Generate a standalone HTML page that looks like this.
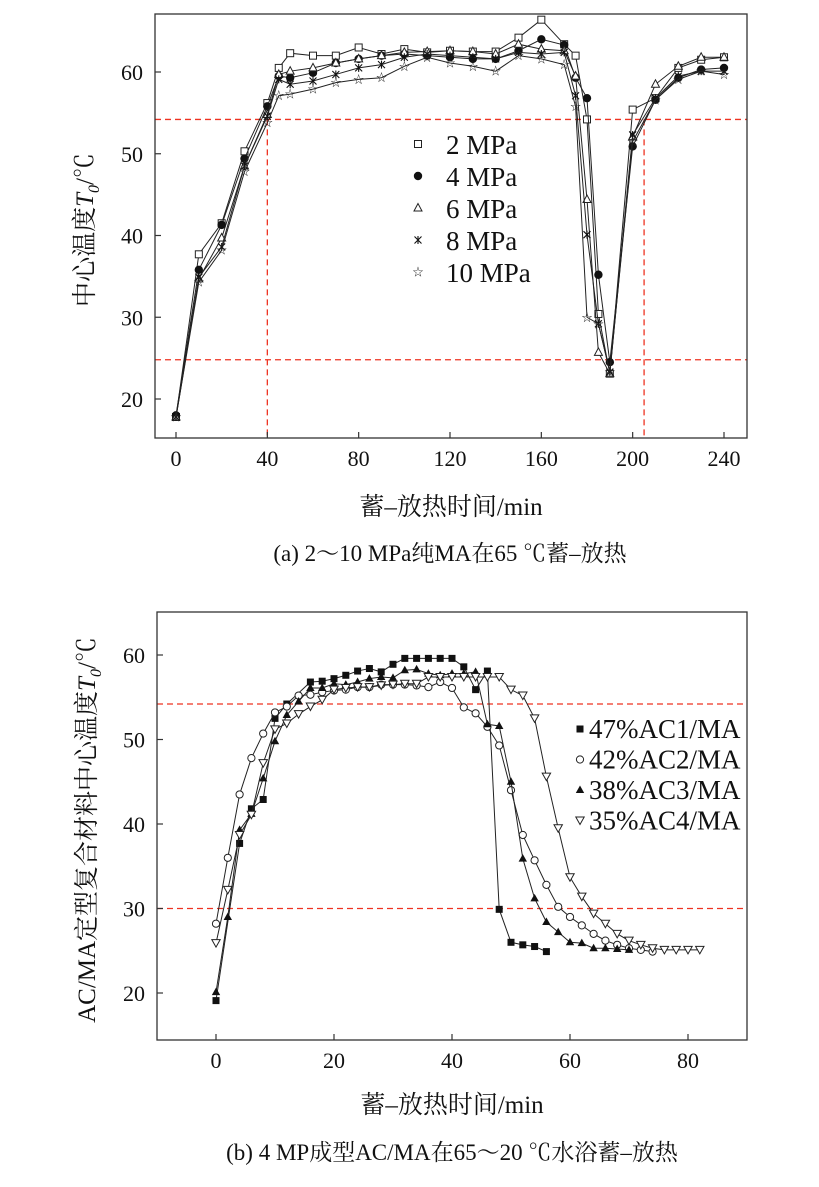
<!DOCTYPE html>
<html><head><meta charset="utf-8">
<style>
body{margin:0;background:#fff;}
svg{display:block;font-family:"Liberation Serif","Noto Serif CJK SC",serif;}
</style></head>
<body>
<svg id="chart" width="819" height="1187" viewBox="0 0 819 1187" xmlns="http://www.w3.org/2000/svg"></svg>
<script>
// ---- Chart (a) data ----
const aX = [0,10,20,30,40,45,50,60,70,80,90,100,110,120,130,140,150,160,170,175,180,185,190,200,210,220,230,240];
const aLabels = ["2 MPa","4 MPa","6 MPa","8 MPa","10 MPa"];
const a2 = [17.8,37.7,41.5,50.3,56.2,60.5,62.3,62.0,62.0,63.0,62.2,62.8,62.4,62.6,62.5,62.5,64.2,66.4,63.4,62.0,54.2,30.4,23.1,55.4,56.8,60.5,61.5,61.8];
const a4 = [18.0,35.8,41.3,49.4,55.8,59.5,59.3,59.9,61.1,61.6,62.0,62.2,62.0,61.8,61.6,61.6,62.6,64.0,63.3,59.3,56.8,35.2,24.5,50.9,56.6,59.3,60.3,60.5];
const a6 = [17.8,34.7,39.7,48.5,54.8,59.7,60.1,60.5,61.1,61.6,62.0,62.4,62.5,62.6,62.5,62.2,63.4,62.8,62.6,59.5,44.4,25.7,23.1,52.1,58.5,60.7,61.8,61.8];
const a8 = [17.8,34.9,38.6,48.5,54.6,59.1,58.5,58.9,59.7,60.5,60.9,61.8,62.2,62.0,61.8,61.6,62.4,62.2,62.4,57.1,40.1,29.2,23.3,52.3,56.8,59.5,60.1,60.1];
const a10 = [17.8,34.3,38.2,47.8,53.8,57.1,57.3,57.9,58.7,59.1,59.3,60.7,61.8,61.1,60.7,60.1,62.0,61.6,60.9,55.8,30.0,29.2,23.3,51.5,56.6,59.1,60.1,59.7];
const aXTicks = [0,40,80,120,160,200,240];
const aYTicks = [20,30,40,50,60];
const aRefY = [54.2,24.8];
const aRefX = [40,205];

// ---- Chart (b) data ----
const b1X = [0,4,6,8,10,12,16,18,20,22,24,26,28,30,32,34,36,38,40,42,44,46,48,50,52,54,56];
const b1Y = [19.1,37.7,41.8,42.9,52.5,54.2,56.8,56.9,57.2,57.6,58.1,58.4,58.0,58.9,59.6,59.6,59.6,59.6,59.6,58.6,55.9,58.1,29.9,26.0,25.7,25.5,24.9];
const b2X = [0,2,4,6,8,10,12,14,16,18,20,22,24,26,28,30,32,34,36,38,40,42,44,46,48,50,52,54,56,58,60,62,64,66,68,70,72,74];
const b2Y = [28.2,36.0,43.5,47.8,50.7,53.2,53.9,55.2,55.3,55.6,55.8,55.9,56.2,56.2,56.5,56.5,56.5,56.4,56.2,56.8,56.1,53.8,53.1,51.5,49.3,44.0,38.7,35.7,32.8,30.2,29.0,28.0,27.0,26.2,25.7,25.3,25.1,24.9];
const b3X = [0,2,4,6,8,10,12,14,16,18,20,22,24,26,28,30,32,34,36,38,40,42,44,46,48,50,52,54,56,58,60,62,64,66,68,70];
const b3Y = [20.1,29.0,39.3,41.2,45.4,49.8,52.9,54.5,56.1,56.1,56.6,56.5,56.8,57.2,57.4,57.3,58.2,58.3,57.8,57.6,57.8,57.8,58.0,51.8,51.6,45.0,35.9,31.2,28.4,27.2,26.0,25.9,25.3,25.3,25.2,25.1];
const b4X = [0,2,4,6,8,10,12,14,16,18,20,22,24,26,28,30,32,34,36,38,40,42,44,46,48,50,52,54,56,58,60,62,64,66,68,70,72,74,76,78,80,82];
const b4Y = [25.9,32.2,38.7,41.1,47.2,51.2,51.9,53.0,53.9,54.7,55.9,56.1,56.2,56.2,56.4,56.5,56.6,56.6,57.4,57.4,57.4,57.4,57.4,57.4,57.4,55.9,55.2,52.5,45.6,39.5,33.7,31.4,29.4,28.2,27.0,26.2,25.7,25.3,25.1,25.1,25.1,25.1];
const bLabels = ["47%AC1/MA","42%AC2/MA","38%AC3/MA","35%AC4/MA"];
const bXTicks = [0,20,40,60,80];
const bYTicks = [20,30,40,50,60];
const bRefY = [54.2,30];

const NS="http://www.w3.org/2000/svg";
const svg=document.getElementById('chart');
function el(tag,attrs,parent){const e=document.createElementNS(NS,tag);for(const k in attrs)e.setAttribute(k,attrs[k]);(parent||svg).appendChild(e);return e;}
function txt(s,attrs,parent){const t=el('text',attrs,parent);t.textContent=s;return t;}

function marker(g,type,cx,cy){
  let m;
  if(type==='sq-open'){m=el('rect',{x:cx-3.5,y:cy-3.5,width:7,height:7,fill:'#fff',stroke:'#222','stroke-width':1},g);}
  else if(type==='sq-fill'){m=el('rect',{x:cx-3.5,y:cy-3.5,width:7,height:7,fill:'#111'},g);}
  else if(type==='dot'){m=el('circle',{cx:cx,cy:cy,r:4.2,fill:'#111'},g);}
  else if(type==='circ-open'){m=el('circle',{cx:cx,cy:cy,r:3.6,fill:'#fff',stroke:'#222','stroke-width':1},g);}
  else if(type==='tri-open'){m=el('polygon',{points:`${cx},${cy-4.5} ${cx-4},${cy+3} ${cx+4},${cy+3}`,fill:'#fff',stroke:'#222','stroke-width':1},g);}
  else if(type==='tri-fill'){m=el('polygon',{points:`${cx},${cy-4.5} ${cx-4.2},${cy+3} ${cx+4.2},${cy+3}`,fill:'#111'},g);}
  else if(type==='tri-down'){m=el('polygon',{points:`${cx},${cy+4} ${cx-4.2},${cy-3.5} ${cx+4.2},${cy-3.5}`,fill:'#fff',stroke:'#222','stroke-width':1},g);}
  else if(type==='x'){m=el('path',{d:`M${cx-3.5},${cy-3.5}L${cx+3.5},${cy+3.5}M${cx+3.5},${cy-3.5}L${cx-3.5},${cy+3.5}M${cx},${cy-4}L${cx},${cy+4}`,stroke:'#111','stroke-width':1.1,fill:'none'},g);}
  else if(type==='star'){m=el('text',{x:cx,y:cy+3.5,'text-anchor':'middle','font-size':11,fill:'#222'},g);m.textContent='☆';}
  
  
}

function drawChart(cfg){
  const g=el('g',{});
  const sx=v=>cfg.x0+(v-cfg.xmin)*(cfg.x1-cfg.x0)/(cfg.xmax-cfg.xmin);
  const sy=v=>cfg.y0+(v-cfg.ymin)*(cfg.y1-cfg.y0)/(cfg.ymax-cfg.ymin);
  cfg.refY.forEach(v=>{el('line',{x1:cfg.L,x2:cfg.R,y1:sy(v),y2:sy(v),stroke:'#e32',"stroke-width":1.3,'stroke-dasharray':'6,4',},g);});
  (cfg.refX||[]).forEach(v=>{el('line',{x1:sx(v),x2:sx(v),y1:sy(54.2),y2:cfg.B,stroke:'#e32',"stroke-width":1.3,'stroke-dasharray':'6,4',},g);});
  el('rect',{x:cfg.L,y:cfg.T,width:cfg.R-cfg.L,height:cfg.B-cfg.T,fill:'none',stroke:'#333','stroke-width':1.3,},g);
  cfg.xt.forEach(v=>{el('line',{x1:sx(v),x2:sx(v),y1:cfg.B,y2:cfg.B-6,stroke:'#333','stroke-width':1.2},g);
    txt(String(v),{x:sx(v),y:cfg.B+28,'text-anchor':'middle','font-size':22,fill:'#111',},g);});
  cfg.yt.forEach(v=>{el('line',{x1:cfg.L,x2:cfg.L+6,y1:sy(v),y2:sy(v),stroke:'#333','stroke-width':1.2},g);
    txt(String(v),{x:cfg.L-12,y:sy(v)+8,'text-anchor':'end','font-size':22,fill:'#111',},g);});
  cfg.series.forEach(s=>{
    const sg=el('g',{},g);
    el('polyline',{points:s.x.map((v,i)=>sx(v)+','+sy(s.y[i])).join(' '),fill:'none',stroke:'#222','stroke-width':1},sg);
    s.x.forEach((v,i)=>marker(sg,s.m,sx(v),sy(s.y[i])));
  });
  return {g,sx,sy};
}

const A=drawChart({name:'chart-a',L:155,R:747,T:14,B:438,x0:176,x1:724,xmin:0,xmax:240,y0:399,y1:72,ymin:20,ymax:60,
  xt:aXTicks,yt:aYTicks,refY:aRefY,refX:aRefX,
  series:[{name:'series-2mpa',x:aX,y:a2,m:'sq-open'},{name:'series-4mpa',x:aX,y:a4,m:'dot'},{name:'series-6mpa',x:aX,y:a6,m:'tri-open'},{name:'series-8mpa',x:aX,y:a8,m:'x'},{name:'series-10mpa',x:aX,y:a10,m:'star'}]});
const aM=['sq-open','dot','tri-open','x','star'];
aLabels.forEach((l,i)=>{const y=145+i*32;const lg=el('g',{},A.g);marker(lg,aM[i],418,y-1);txt(l,{x:446,y:y+9,'font-size':27,fill:'#111'},lg);});

const B=drawChart({name:'chart-b',L:157,R:747,T:612,B:1040,x0:216,x1:688,xmin:0,xmax:80,y0:993,y1:655,ymin:20,ymax:60,
  xt:bXTicks,yt:bYTicks,refY:bRefY,refX:[],
  series:[{name:'series-ac1',x:b1X,y:b1Y,m:'sq-fill'},{name:'series-ac2',x:b2X,y:b2Y,m:'circ-open'},{name:'series-ac3',x:b3X,y:b3Y,m:'tri-fill'},{name:'series-ac4',x:b4X,y:b4Y,m:'tri-down'}]});
const bM=['sq-fill','circ-open','tri-fill','tri-down'];
bLabels.forEach((l,i)=>{const y=729+i*30.5;const lg=el('g',{},B.g);marker(lg,bM[i],580,y);txt(l,{x:589,y:y+9,'font-size':27,fill:'#111'},lg);});

let t=el('text',{x:0,y:0,transform:'translate(93,230) rotate(-90)','text-anchor':'middle','font-size':25,fill:'#111',});
t.innerHTML='中心温度<tspan font-style="italic">T</tspan><tspan font-size="16" dy="6" font-style="italic">0</tspan><tspan dy="-6">/℃</tspan>';
t=el('text',{x:0,y:0,transform:'translate(95,830) rotate(-90)','text-anchor':'middle','font-size':25,fill:'#111',});
t.innerHTML='AC/MA定型复合材料中心温度<tspan font-style="italic">T</tspan><tspan font-size="16" dy="6" font-style="italic">0</tspan><tspan dy="-6">/℃</tspan>';
txt('蓄–放热时间/min',{x:451,y:515,'text-anchor':'middle','font-size':25,fill:'#111',});
txt('蓄–放热时间/min',{x:452,y:1113,'text-anchor':'middle','font-size':25,fill:'#111',});
txt('(a) 2～10 MPa纯MA在65 ℃蓄–放热',{x:450,y:561,'text-anchor':'middle','font-size':23,fill:'#111',});
txt('(b) 4 MP成型AC/MA在65～20 ℃水浴蓄–放热',{x:452,y:1160,'text-anchor':'middle','font-size':23,fill:'#111',});
</script>
</body></html>
